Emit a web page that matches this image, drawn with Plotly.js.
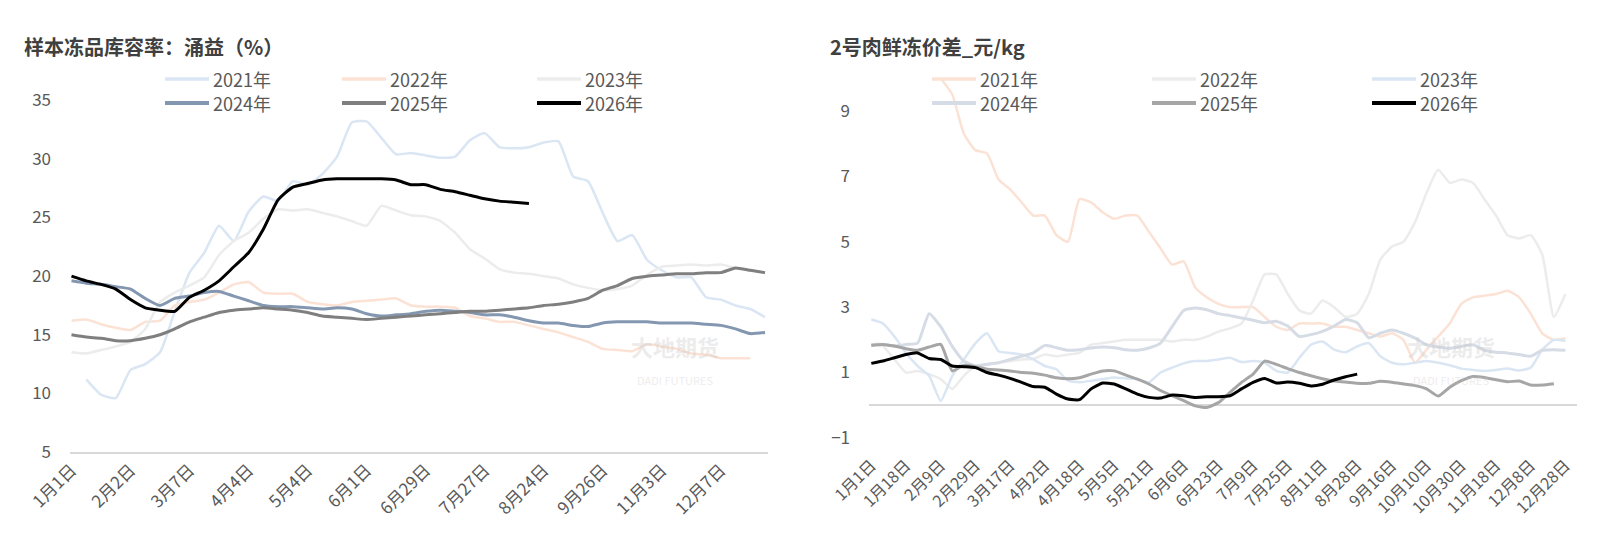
<!DOCTYPE html>
<html>
<head>
<meta charset="utf-8">
<script src="https://cdn.plot.ly/plotly-3.0.1.min.js"></script>
<style>body{margin:0;background:#fff}#chart{width:1616px;height:539px}</style>
</head>
<body>
<div id="chart"></div>
<script>
// left: weekly storage rate, one point per week
var leftTicks = ['1月1日', '2月2日', '3月7日', '4月4日', '5月4日', '6月1日', '6月29日', '7月27日', '8月24日', '9月26日', '11月3日', '12月7日'];
var store2021 = [null, 11.2, 9.9, 9.6, 12.0, 12.5, 13.5, 17.0, 20.3, 22.0, 24.3, 23.0, 25.5, 26.8, 26.4, 28.1, 27.8, 28.7, 30.2, 33.1, 33.2, 31.8, 30.4, 30.5, 30.3, 30.1, 30.2, 31.6, 32.2, 31.0, 30.9, 31.0, 31.4, 31.5, 28.5, 28.1, 25.4, 23.0, 23.5, 21.4, 20.5, 19.9, 19.9, 18.2, 18.0, 17.5, 17.2, 16.5];
var store2022 = [16.2, 16.3, 15.9, 15.6, 15.4, 16.1, 16.2, 17.5, 17.8, 18.0, 18.6, 19.3, 19.5, 18.6, 18.5, 18.5, 17.8, 17.6, 17.5, 17.8, 17.9, 18.0, 18.1, 17.5, 17.4, 17.4, 17.3, 16.6, 16.4, 16.1, 16.1, 15.8, 15.5, 15.2, 14.8, 14.4, 13.8, 13.7, 13.6, 14.2, 14.0, 13.8, 13.4, 13.3, 13.0, 13.0, 13.0];
var store2023 = [13.5, 13.4, 13.7, 14.0, 14.4, 15.5, 17.8, 18.6, 19.2, 19.9, 21.8, 23.0, 23.7, 24.9, 25.7, 25.6, 25.7, 25.4, 25.1, 24.7, 24.3, 26.0, 25.6, 25.2, 25.1, 24.7, 23.7, 22.3, 21.5, 20.6, 20.3, 20.2, 20.0, 19.8, 19.3, 19.0, 18.8, 18.9, 19.2, 20.1, 20.8, 20.9, 21.0, 20.9, 21.0, 20.7, 20.5, 20.3];
var store2024 = [19.6, 19.4, 19.3, 19.1, 18.9, 18.1, 17.5, 18.1, 18.3, 18.6, 18.7, 18.3, 17.9, 17.5, 17.4, 17.4, 17.3, 17.2, 17.3, 17.2, 16.8, 16.6, 16.7, 16.8, 17.0, 17.1, 17.0, 16.9, 16.7, 16.7, 16.5, 16.2, 16.0, 16.0, 15.8, 15.7, 16.0, 16.1, 16.1, 16.1, 16.0, 16.0, 16.0, 15.9, 15.8, 15.5, 15.1, 15.2];
var store2025 = [15.0, 14.8, 14.7, 14.5, 14.5, 14.7, 15.0, 15.5, 16.1, 16.5, 16.9, 17.1, 17.2, 17.3, 17.2, 17.1, 16.9, 16.6, 16.5, 16.4, 16.3, 16.4, 16.5, 16.6, 16.7, 16.8, 16.9, 17.0, 17.0, 17.1, 17.2, 17.3, 17.5, 17.6, 17.8, 18.1, 18.8, 19.2, 19.8, 20.0, 20.1, 20.2, 20.2, 20.3, 20.3, 20.7, 20.5, 20.3];
var store2026 = [20.0, 19.6, 19.3, 18.9, 18.0, 17.3, 17.1, 17.0, 18.2, 18.8, 19.6, 20.8, 22.0, 24.0, 26.5, 27.6, 27.9, 28.2, 28.3, 28.3, 28.3, 28.3, 28.2, 27.8, 27.8, 27.4, 27.2, 26.9, 26.6, 26.4, 26.3, 26.2];

// right: fresh-frozen spread, three points per tick step
var rightTicks = ['1月1日', '1月18日', '2月9日', '2月29日', '3月17日', '4月2日', '4月18日', '5月5日', '5月21日', '6月6日', '6月23日', '7月9日', '7月25日', '8月11日', '8月28日', '9月16日', '10月10日', '10月30日', '11月18日', '12月8日', '12月28日'];
var spread2021 = [null, null, null, null, null, null, 10.0, 9.5, 8.3, 7.8, 7.7, 6.9, 6.6, 6.2, 5.8, 5.8, 5.2, 5.0, 6.3, 6.2, 5.9, 5.7, 5.8, 5.8, 5.3, 4.8, 4.3, 4.4, 3.6, 3.3, 3.1, 3.0, 3.0, 3.0, 2.7, 2.4, 2.3, 2.5, 2.5, 2.5, 2.4, 2.4, 2.3, 2.2, 2.1, 2.2, 2.0, 1.3, 1.7, 2.1, 2.5, 3.1, 3.3, 3.35, 3.4, 3.5, 3.3, 2.8, 2.2, 2.0, 2.05];
var spread2022 = [1.86, 1.81, 1.4, 1.0, 1.05, 0.95, 0.8, 0.5, 0.9, 1.2, 1.25, 1.3, 1.35, 1.4, 1.42, 1.55, 1.5, 1.55, 1.6, 1.85, 1.9, 1.95, 2.0, 2.0, 2.0, 2.0, 1.95, 2.0, 2.0, 2.1, 2.25, 2.35, 2.5, 3.2, 4.0, 4.0, 3.4, 2.9, 2.8, 3.2, 3.0, 2.7, 2.8, 3.4, 4.45, 4.85, 5.0, 5.6, 6.5, 7.2, 6.8, 6.9, 6.8, 6.3, 5.8, 5.2, 5.1, 5.2, 4.6, 2.7, 3.4];
var spread2023 = [2.62, 2.5, 2.1, 1.6, 1.2, 0.9, 0.13, 0.9, 1.4, 1.9, 2.2, 1.65, 1.6, 1.55, 1.4, 1.2, 1.1, 0.75, 0.7, 0.75, 0.8, 0.85, 0.82, 0.8, 0.7, 1.0, 1.15, 1.28, 1.35, 1.35, 1.4, 1.45, 1.32, 1.35, 1.3, 1.05, 1.0, 1.45, 1.85, 1.95, 1.7, 1.62, 1.8, 1.9, 1.5, 1.3, 1.25, 1.3, 1.35, 1.3, 1.22, 1.12, 1.08, 1.05, 1.08, 1.12, 1.06, 1.15, 1.7, 2.0, 1.97];
var spread2024 = [1.86, 1.86, 1.81, 1.86, 1.9, 2.8, 2.4, 1.8, 1.35, 1.2, 1.25, 1.3, 1.4, 1.5, 1.6, 1.83, 1.76, 1.68, 1.7, 1.75, 1.78, 1.76, 1.7, 1.68, 1.75, 1.9, 2.4, 2.9, 2.97, 2.92, 2.8, 2.74, 2.67, 2.6, 2.52, 2.57, 2.42, 2.1, 2.16, 2.26, 2.42, 2.62, 2.52, 2.06, 2.2, 2.3, 2.2, 2.05, 1.85, 1.78, 1.74, 1.8, 1.85, 1.68, 1.62, 1.6, 1.55, 1.5, 1.68, 1.7, 1.68];
var spread2025 = [1.83, 1.86, 1.81, 1.73, 1.68, 1.78, 1.86, 1.05, 1.22, 1.18, 1.1, 1.08, 1.05, 1.0, 0.98, 0.92, 0.84, 0.81, 0.84, 0.95, 1.05, 1.05, 0.92, 0.8, 0.65, 0.45, 0.29, 0.14, -0.02, -0.07, 0.08, 0.39, 0.7, 0.95, 1.35, 1.25, 1.12, 1.0, 0.9, 0.81, 0.74, 0.71, 0.67, 0.67, 0.73, 0.7, 0.65, 0.6, 0.5, 0.28, 0.55, 0.75, 0.88, 0.85, 0.78, 0.72, 0.74, 0.62, 0.62, 0.66];
var spread2026 = [1.28, 1.35, 1.45, 1.55, 1.6, 1.43, 1.4, 1.2, 1.18, 1.15, 1.0, 0.92, 0.82, 0.7, 0.57, 0.55, 0.34, 0.19, 0.17, 0.5, 0.68, 0.65, 0.5, 0.34, 0.24, 0.22, 0.31, 0.29, 0.24, 0.26, 0.26, 0.29, 0.5, 0.7, 0.82, 0.68, 0.71, 0.67, 0.59, 0.64, 0.77, 0.87, 0.95];

var years = ['2021年', '2022年', '2023年', '2024年', '2025年', '2026年'];
var leftColors = ['#dae6f3', '#fbe2d5', '#ececec', '#8497b0', '#7f7f7f', '#000000'];
var rightColors = ['#fbe2d5', '#ececec', '#dae6f3', '#d6dce5', '#a6a6a6', '#000000'];
var widths = [2.5, 2.5, 2.5, 3, 3, 3];

function idx(arr) {
  return arr.map(function (v, i) { return i; });
}

var W = 1616;
var font = 'Noto Sans CJK SC, sans-serif';
var leftSeries = [store2021, store2022, store2023, store2024, store2025, store2026];
var rightSeries = [spread2021, spread2022, spread2023, spread2024, spread2025, spread2026];
var data = [];
var shapes = [];
var annotations = [];

// pixel -> paper helpers (plot area: y 71..452)
function px(x) { return x / W; }
function py(y) { return (452 - y) / 381; }

// hand-built legends: 3 columns x 2 rows per chart
function addLegend(colStarts, colors) {
  years.forEach(function (name, k) {
    var x0 = colStarts[k % 3], y = k < 3 ? 79 : 103;
    shapes.push({type: 'line', xref: 'paper', yref: 'paper', x0: px(x0), x1: px(x0 + 44),
      y0: py(y), y1: py(y), line: {color: colors[k], width: widths[k] + 1}});
    annotations.push({text: name, xref: 'paper', yref: 'paper', x: px(x0 + 46), y: py(y),
      xanchor: 'left', yanchor: 'middle', showarrow: false,
      font: {family: font, size: 18, color: '#595959'}});
  });
}

leftSeries.forEach(function (s, k) {
  data.push({
    x: idx(s), y: s, name: years[k], mode: 'lines', type: 'scatter',
    xaxis: 'x', yaxis: 'y',
    line: {color: leftColors[k], width: widths[k], shape: 'spline', smoothing: 0.5},
    hoverinfo: 'skip'
  });
});
rightSeries.forEach(function (s, k) {
  data.push({
    x: idx(s), y: s, name: years[k], mode: 'lines', type: 'scatter',
    xaxis: 'x2', yaxis: 'y2',
    line: {color: rightColors[k], width: widths[k], shape: 'spline', smoothing: 0.5},
    hoverinfo: 'skip'
  });
});

addLegend([165, 342, 537], leftColors);
addLegend([932, 1152, 1372], rightColors);

annotations.push(
  {text: '<b>样本冻品库容率：涌益（%）</b>', xref: 'paper', yref: 'paper', x: px(22), y: py(46),
   xanchor: 'left', yanchor: 'middle', showarrow: false, font: {family: font, size: 20, color: '#404040'}},
  {text: '<b>2号肉鲜冻价差_元/kg</b>', xref: 'paper', yref: 'paper', x: px(828), y: py(46),
   xanchor: 'left', yanchor: 'middle', showarrow: false, font: {family: font, size: 20, color: '#404040'}},
  {text: '<b>大地期货</b><br><span style="font-size:11px">DADI FUTURES</span>', xref: 'paper', yref: 'paper',
   x: px(675), y: py(390), showarrow: false, font: {family: font, size: 22, color: 'rgba(200,200,200,0.35)'}},
  {text: '<b>大地期货</b><br><span style="font-size:11px">DADI FUTURES</span>', xref: 'paper', yref: 'paper',
   x: px(1497), y: py(390), showarrow: false, font: {family: font, size: 22, color: 'rgba(200,200,200,0.35)'}}
);

var yFont = {family: font, size: 17, color: '#595959'};

var layout = {
  width: W, height: 539,
  margin: {l: 0, r: 0, t: 71, b: 87},
  paper_bgcolor: '#fff', plot_bgcolor: 'rgba(0,0,0,0)',
  showlegend: false,
  xaxis: {
    domain: [70 / W, 768 / W], range: [-0.1, 47.2],
    tickvals: leftTicks.map(function (t, i) { return i * 4; }), ticktext: leftTicks,
    tickangle: -45, tickfont: {family: font, size: 17, color: '#595959'}, showgrid: false, zeroline: false,
    showline: true, linecolor: '#d9d9d9', linewidth: 1.5, ticks: ''
  },
  yaxis: {
    anchor: 'x', range: [5, 37.5], tickvals: [5, 10, 15, 20, 25, 30, 35],
    tickfont: yFont, showgrid: false, zeroline: false, showline: false, ticklabelstandoff: 18
  },
  xaxis2: {
    domain: [869 / W, 1577 / W], range: [-0.2, 61], anchor: 'y2',
    tickvals: rightTicks.map(function (t, i) { return i * 3; }), ticktext: rightTicks,
    tickangle: -45, tickfont: {family: font, size: 16, color: '#595959'}, showgrid: false, zeroline: false,
    showline: false, ticks: ''
  },
  yaxis2: {
    anchor: 'x2', range: [-1.43, 10.22], tickvals: [-1, 1, 3, 5, 7, 9],
    tickfont: yFont, showgrid: false, zeroline: true, zerolinecolor: '#d9d9d9', zerolinewidth: 1.5,
    showline: false, ticklabelstandoff: 18
  },
  shapes: shapes,
  annotations: annotations
};

Plotly.newPlot('chart', data, layout, {staticPlot: true});
</script>
</body>
</html>
